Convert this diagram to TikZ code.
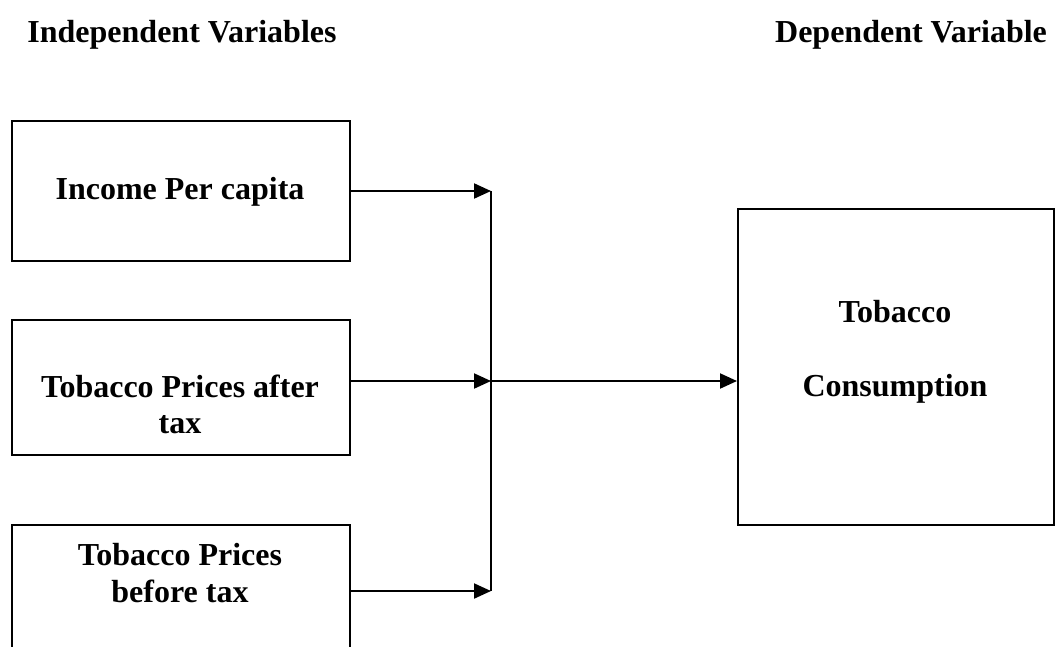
\documentclass[tikz,border=0pt]{standalone}
\usepackage{fontspec}
\setmainfont{Liberation Serif}
\usetikzlibrary{arrows.meta}
\begin{document}
\begin{tikzpicture}[x=1pt,y=-1pt,
  box/.style={draw=black,line width=2.1pt,minimum width=#1,inner sep=0pt,anchor=north west},
  lbl/.style={font=\fontsize{32}{36}\selectfont\bfseries,inner sep=0pt,anchor=base},
  conn/.style={line width=2.1pt},
  arr/.style={conn,-{Triangle[length=17pt,width=15pt]}}]
\useasboundingbox (0,0) rectangle (1056,646);
\clip (0,0) rectangle (1056,646);
% headings
\node[lbl] (hind) at (182,42) {Independent Variables};
\node[lbl] (hdep) at (911,42) {Dependent Variable};
% boxes
\node[box=338pt,minimum height=140pt] (b1) at (11,120) {};
\node[box=338pt,minimum height=135pt] (b2) at (11,319) {};
\node[box=338pt,minimum height=200pt] (b3) at (11,524) {};
\node[box=316pt,minimum height=316pt] (r) at (737,208) {};
% texts
\node[lbl] (t1) at (180,199) {Income Per capita};
\node[lbl] (t2a) at (180,397) {Tobacco Prices after};
\node[lbl] (t2b) at (180,433) {tax};
\node[lbl] (t3a) at (180,565) {Tobacco Prices};
\node[lbl] (t3b) at (180,602) {before tax};
\node[lbl] (rta) at (895,322) {Tobacco};
\node[lbl] (rtb) at (895,396) {Consumption};
% connectors
\coordinate (j1) at (491,191);
\coordinate (j2) at (491,381);
\coordinate (j3) at (491,591);
\draw[arr] (b1.east |- j1) -- (j1);
\draw[arr] (b2.east |- j2) -- (j2);
\draw[arr] (b3.east |- j3) -- (j3);
\draw[conn] (j1) -- (j3);
\draw[arr] (j2) -- (r.west |- j2);
\end{tikzpicture}
\end{document}
